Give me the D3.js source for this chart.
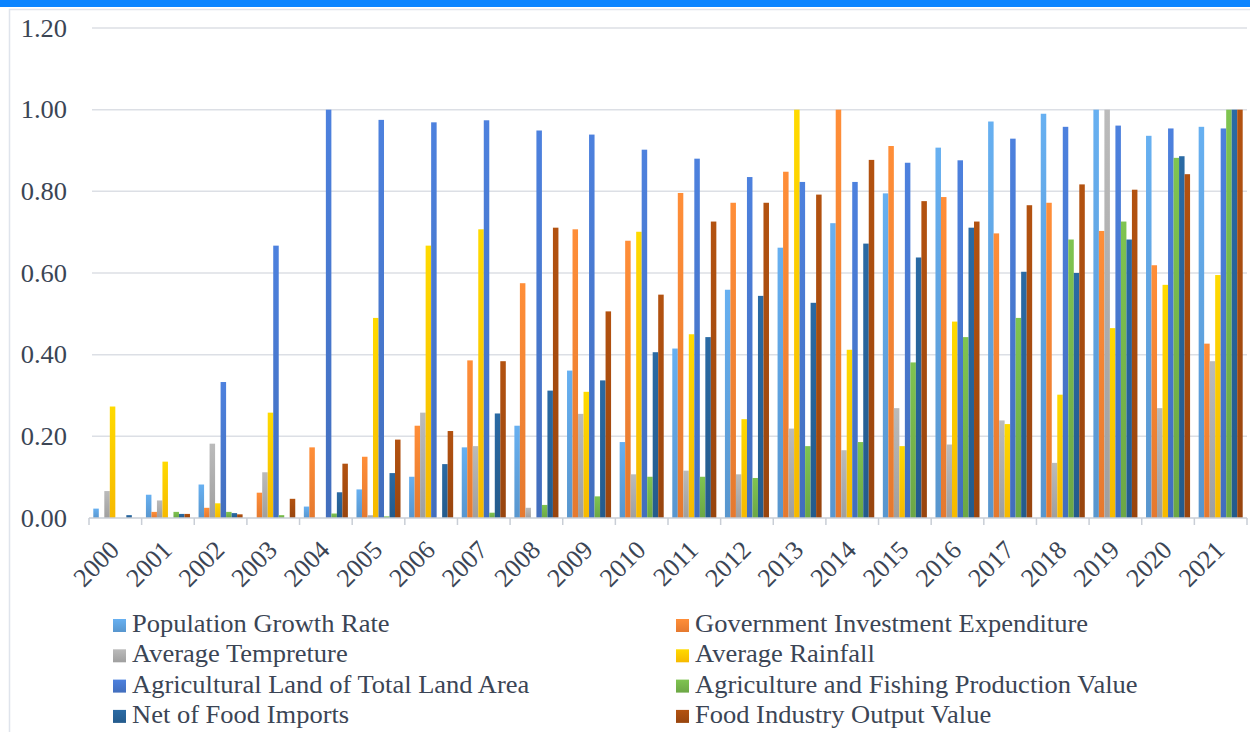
<!DOCTYPE html>
<html>
<head>
<meta charset="utf-8">
<script src="https://cdn.jsdelivr.net/npm/d3@7"></script>
<style>
  html, body { margin: 0; padding: 0; background: #ffffff; }
  svg { display: block; }
</style>
</head>
<body>
<svg id="chart" width="1250" height="732"></svg>
<script>
// Years on the category axis
const years = ["2000","2001","2002","2003","2004","2005","2006","2007","2008","2009","2010",
               "2011","2012","2013","2014","2015","2016","2017","2018","2019","2020","2021"];

// Series names (legend order)
const seriesNames = [
  "Population Growth Rate",
  "Government Investment Expenditure",
  "Average Tempreture",
  "Average Rainfall",
  "Agricultural Land of Total Land Area",
  "Agriculture and Fishing Production Value",
  "Net of Food Imports",
  "Food Industry Output Value"
];

// Normalised values per series, one per year
const populationGrowth = [0.023,0.057,0.082,0,0.028,0.070,0.101,0.173,0.226,0.361,0.186,0.415,0.559,0.662,0.722,0.795,0.907,0.971,0.990,1.000,0.936,0.958];
const govInvestment    = [0,0.015,0.025,0.062,0.173,0.150,0.226,0.386,0.575,0.707,0.679,0.796,0.772,0.848,1.000,0.911,0.786,0.697,0.772,0.703,0.619,0.427];
const avgTemperature   = [0.066,0.043,0.182,0.112,0,0.007,0.258,0.176,0.025,0.255,0.107,0.116,0.107,0.219,0.166,0.269,0.180,0.239,0.135,1.000,0.269,0.384];
const avgRainfall      = [0.273,0.138,0.036,0.258,0,0.490,0.667,0.707,0,0.309,0.701,0.450,0.242,1.000,0.412,0.176,0.481,0.230,0.302,0.465,0.571,0.595];
const agriLand         = [0,0,0.333,0.667,1.000,0.975,0.969,0.974,0.949,0.939,0.902,0.880,0.835,0.823,0.823,0.870,0.876,0.929,0.958,0.961,0.954,0.954];
const agriFishing      = [0,0.015,0.015,0.007,0.011,0.004,0,0.013,0.032,0.053,0.101,0.101,0.098,0.176,0.186,0.381,0.443,0.490,0.682,0.726,0.882,1.000];
const netFoodImports   = [0.007,0.010,0.012,0,0.063,0.110,0.132,0.256,0.312,0.337,0.406,0.443,0.544,0.527,0.672,0.638,0.711,0.603,0.600,0.682,0.886,1.000];
const foodIndustry     = [0,0.010,0.009,0.047,0.133,0.192,0.213,0.384,0.711,0.506,0.547,0.726,0.772,0.792,0.877,0.776,0.726,0.766,0.817,0.804,0.842,1.000];

const seriesValues = [populationGrowth, govInvestment, avgTemperature, avgRainfall,
                      agriLand, agriFishing, netFoodImports, foodIndustry];

const seriesColors = ["#5B9BD5","#ED7D31","#A5A5A5","#FFC000","#4472C4","#70AD47","#255E91","#9E480E"];

// Value-axis tick labels
const yTicks = [0, 0.2, 0.4, 0.6, 0.8, 1.0, 1.2];

const svg = d3.select("#chart");
const textColor = "#3b4555";
const serifFamily = '"Liberation Serif"';
const widen = 1.06; // text is set slightly wide

// Stretch a text node horizontally by a fixed factor
function stretch(sel) {
  sel.each(function () {
    const w = this.getComputedTextLength();
    d3.select(this).attr("textLength", w * widen).attr("lengthAdjust", "spacingAndGlyphs");
  });
}

// Page decoration: top band and light frame
svg.append("rect").attr("x", 0).attr("y", 0).attr("width", 1250).attr("height", 7).attr("fill", "#0A84FF");
svg.append("path")
  .attr("d", "M9.5,732 V9.5 H1250")
  .attr("fill", "none").attr("stroke", "#dfe4ec").attr("stroke-width", 1.5);

const plot = { left: 89, right: 1247, top: 28, bottom: 518 };

const y = d3.scaleLinear().domain([0, 1.2]).range([plot.bottom, plot.top]);
const x0 = d3.scaleBand().domain(years).range([plot.left, plot.right]).paddingInner(0).paddingOuter(0);
const x1 = d3.scaleBand().domain(seriesNames).range([0, x0.bandwidth()]).paddingInner(0).paddingOuter(0.78);

// Gradients per series (lighter toward the top of each bar)
const defs = svg.append("defs");
seriesColors.forEach((c, i) => {
  const g = defs.append("linearGradient").attr("id", "grad" + i)
    .attr("x1", 0).attr("y1", 0).attr("x2", 0).attr("y2", 1);
  g.append("stop").attr("offset", "0%").attr("stop-color", d3.color(c).brighter(0.35));
  g.append("stop").attr("offset", "100%").attr("stop-color", d3.color(c).darker(0.1));
});

// Horizontal gridlines
svg.append("g")
  .selectAll("line")
  .data(yTicks.filter(d => d > 0))
  .join("line")
  .attr("x1", plot.left + 3).attr("x2", plot.right)
  .attr("y1", d => y(d)).attr("y2", d => y(d))
  .attr("stroke", "#dcdfe5").attr("stroke-width", 1.5);

// Y-axis labels
svg.append("g")
  .selectAll("text")
  .data(yTicks)
  .join("text")
  .attr("x", 67).attr("y", d => y(d))
  .attr("dy", "0.35em")
  .attr("text-anchor", "end")
  .style("font-family", serifFamily).style("font-size", "25px")
  .attr("fill", textColor)
  .text(d => d.toFixed(2))
  .call(stretch);

// Bars
const groups = svg.append("g")
  .selectAll("g")
  .data(years)
  .join("g")
  .attr("transform", d => `translate(${x0(d)},0)`);

groups.selectAll("rect")
  .data((yr, yi) => seriesNames.map((s, si) => ({ s, si, v: seriesValues[si][yi] })))
  .join("rect")
  .attr("x", d => x1(d.s))
  .attr("width", x1.bandwidth())
  .attr("y", d => y(d.v))
  .attr("height", d => y(0) - y(d.v))
  .attr("fill", d => `url(#grad${d.si})`);

// Category axis line and ticks
const axisG = svg.append("g");
axisG.append("line")
  .attr("x1", plot.left).attr("x2", plot.right)
  .attr("y1", plot.bottom).attr("y2", plot.bottom)
  .attr("stroke", "#c9ced6").attr("stroke-width", 1.5);
axisG.selectAll("line.tick")
  .data(years.map(d => x0(d)).concat([plot.right]))
  .join("line").attr("class", "tick")
  .attr("x1", d => d).attr("x2", d => d)
  .attr("y1", plot.bottom).attr("y2", plot.bottom + 7)
  .attr("stroke", "#c9ced6").attr("stroke-width", 1.5);

// Rotated year labels
axisG.selectAll("text")
  .data(years)
  .join("text")
  .attr("transform", d => `translate(${x0(d) + x0.bandwidth() / 2 - 1},${plot.bottom + 27}) rotate(-45)`)
  .attr("text-anchor", "end")
  .attr("dy", "0.35em")
  .style("font-family", serifFamily).style("font-size", "26px")
  .attr("fill", textColor)
  .text(d => d);

// Legend: two columns, four rows
const legend = svg.append("g");
const legendCols = [113, 676];
const legendTop = 619;
const rowStep = 30.3;
seriesNames.forEach((name, i) => {
  const col = i % 2, row = Math.floor(i / 2);
  const gx = legendCols[col], gy = legendTop + row * rowStep;
  legend.append("rect")
    .attr("x", gx).attr("y", gy).attr("width", 13).attr("height", 13)
    .attr("fill", `url(#grad${i})`);
  legend.append("text")
    .attr("x", gx + 19).attr("y", gy + 13)
    .style("font-family", serifFamily).style("font-size", "25px")
    .attr("fill", textColor)
    .text(name)
    .call(stretch);
});
</script>
</body>
</html>
